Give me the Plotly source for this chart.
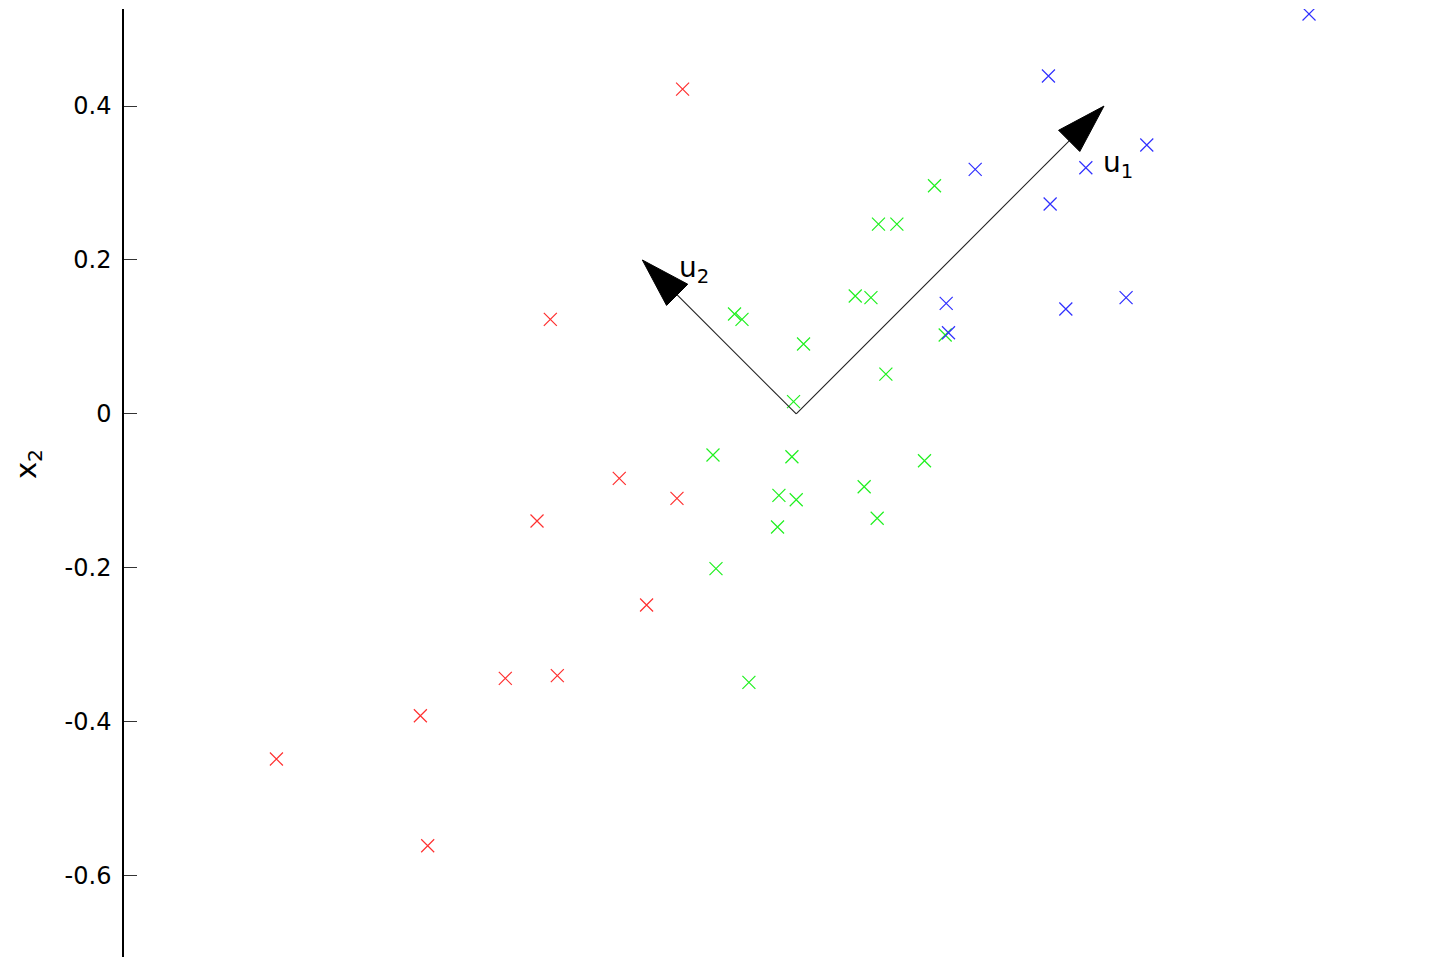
import numpy as np
import plotly.graph_objects as go

# Class samples (x1, x2)
red_x = [-0.1477, -0.3196, -0.2300, -0.1550, -0.3369, -0.1945, -0.3781, -0.3105, -0.4885, -0.6756, -0.4790]
red_y = [0.4221, 0.1229, -0.0837, -0.1097, -0.1391, -0.2483, -0.3435, -0.3401, -0.3921, -0.4484, -0.5610]

green_x = [0.1797, 0.1069, 0.1308, 0.0767, 0.0971, -0.0802, -0.0705, 0.0095, 0.1936, 0.1165, -0.0035,
           -0.1082, -0.0056, 0.1667, 0.0883, -0.0225, 0.0000, 0.1052, -0.0243, -0.1043, -0.0615]
green_y = [0.2965, 0.2467, 0.2467, 0.1532, 0.1510, 0.1298, 0.1229, 0.0908, 0.1025, 0.0518, 0.0159,
           -0.0534, -0.0556, -0.0608, -0.0946, -0.1058, -0.1115, -0.1356, -0.1469, -0.2011, -0.3487]

blue_x = [0.6665, 0.3278, 0.4556, 0.2326, 0.3764, 0.3300, 0.1949, 0.3504, 0.4287, 0.1979]
blue_y = [0.5196, 0.4390, 0.3494, 0.3178, 0.3199, 0.2727, 0.1437, 0.1363, 0.1510, 0.1055]

# Principal directions drawn from the origin
u1 = (0.40, 0.40)
u2 = (-0.20, 0.20)

y_ticks = [-0.6, -0.4, -0.2, 0, 0.2, 0.4]
y_tick_text = ["-0.6", "-0.4", "-0.2", "0", "0.2", "0.4"]

X_RANGE = [-0.8737, 0.8471]
Y_RANGE = [-0.7056, 0.5261]

HEAD_LEN = 0.064
HEAD_WIDTH = 0.039

FONT = "DejaVu Sans, Arial, sans-serif"

fig = go.Figure()

for xs, ys, col in [(red_x, red_y, "#ff3030"), (green_x, green_y, "#20f020"), (blue_x, blue_y, "#3030ff")]:
    fig.add_trace(go.Scatter(
        x=xs, y=ys, mode="markers",
        marker=dict(symbol="x-thin", size=13, line=dict(width=1.2, color=col), color=col),
        hoverinfo="skip", showlegend=False,
    ))


def arrow(vec):
    tip = np.array(vec, dtype=float)
    d = tip / np.linalg.norm(tip)
    n = np.array([-d[1], d[0]])
    base = tip - HEAD_LEN * d
    c1 = base + n * HEAD_WIDTH / 2
    c2 = base - n * HEAD_WIDTH / 2
    fig.add_trace(go.Scatter(
        x=[0, base[0]], y=[0, base[1]], mode="lines",
        line=dict(color="#222222", width=1.1), hoverinfo="skip", showlegend=False,
    ))
    fig.add_trace(go.Scatter(
        x=[tip[0], c1[0], c2[0], tip[0]], y=[tip[1], c1[1], c2[1], tip[1]],
        mode="lines", fill="toself", fillcolor="black",
        line=dict(color="black", width=1), hoverinfo="skip", showlegend=False,
    ))


arrow(u1)
arrow(u2)

label_font = dict(family=FONT, size=28, color="black")

fig.add_annotation(x=u1[0], y=u1[1], xref="x", yref="y", text="u<sub>1</sub>",
                   showarrow=False, xanchor="left", yanchor="top", xshift=-3, yshift=-38,
                   font=label_font)
fig.add_annotation(x=u2[0], y=u2[1], xref="x", yref="y", text="u<sub>2</sub>",
                   showarrow=False, xanchor="left", yanchor="top", xshift=35, yshift=11,
                   font=label_font)

fig.add_annotation(x=-0.0725, y=0.52, xref="paper", yref="paper", text="x<sub>2</sub>",
                   textangle=-90, showarrow=False, xanchor="center", yanchor="middle",
                   font=dict(family=FONT, size=29, color="black"))

fig.update_xaxes(range=X_RANGE, visible=False, showgrid=False, zeroline=False)
fig.update_yaxes(
    range=Y_RANGE, tickvals=y_ticks, ticktext=y_tick_text,
    showline=True, linecolor="black", linewidth=1.5, mirror=False,
    ticks="inside", ticklen=13, tickwidth=1, tickcolor="#333333",
    showgrid=False, zeroline=False, ticklabelstandoff=6,
    tickfont=dict(family=FONT, size=24, color="black"),
)

fig.update_layout(
    width=1448, height=957, autosize=False,
    margin=dict(l=123.5, r=0, t=9, b=0, pad=0),
    paper_bgcolor="white", plot_bgcolor="white",
    showlegend=False,
)

fig.write_html("out.html")
